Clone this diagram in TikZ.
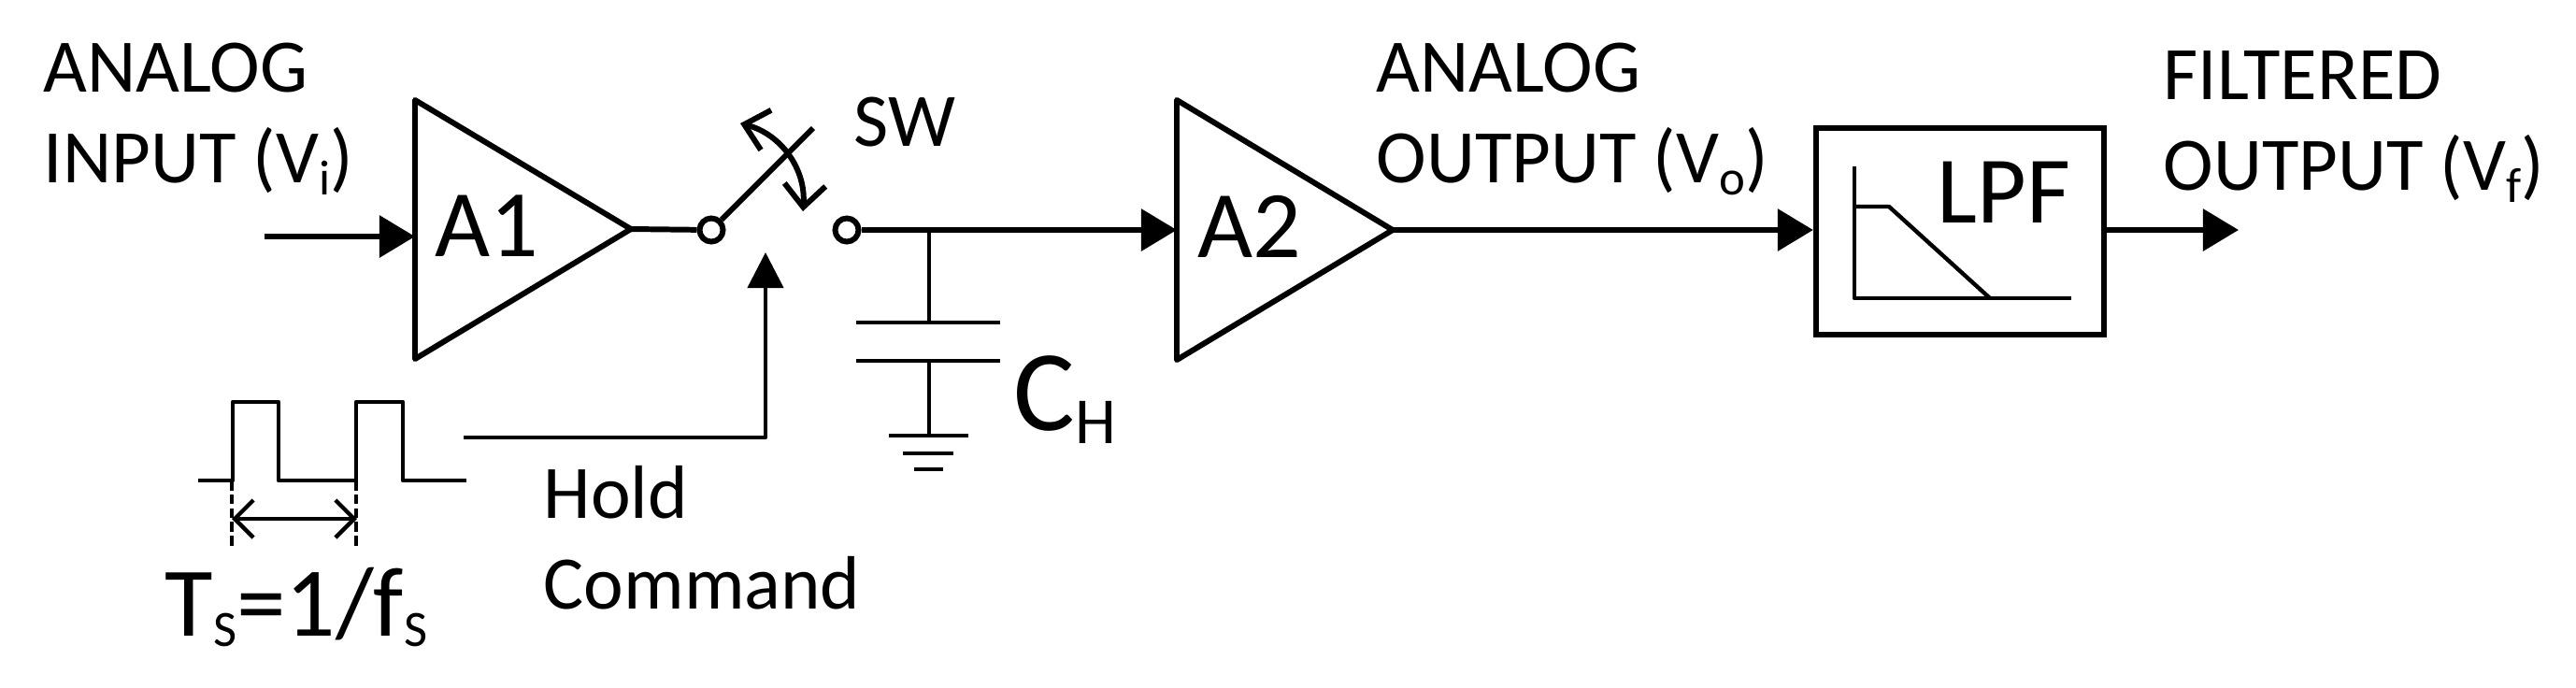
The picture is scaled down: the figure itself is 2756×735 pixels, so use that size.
\documentclass[tikz,border=0pt]{standalone}
\usepackage{fontspec}
\setmainfont{Carlito}
\usetikzlibrary{arrows.meta}
\newcommand{\lowsub}[1]{\raisebox{-3.8pt}{\fontsize{15}{15}\selectfont #1}}
\tikzset{
	wire/.style={line width=1.7pt, line join=round},
	thinwire/.style={line width=1.25pt, line join=round},
	solidtip/.style={-{Triangle[length=0.38cm, width=0.44cm]}},
	holdhead/.style={-{Triangle[length=0.38cm, width=0.38cm]}},
	opentip/.style={{Straight Barb[length=0.2cm, width=0.4cm]}-{Straight Barb[length=0.2cm, width=0.4cm]}},
	swingtip/.style={{Straight Barb[length=0.24cm, width=0.44cm]}-{Straight Barb[length=0.24cm, width=0.44cm]}},
	label/.style={anchor=base west, inner sep=0pt, align=left, font=\fontsize{23}{27.9}\selectfont},
	biglabel/.style={anchor=base west, inner sep=0pt, font=\fontsize{29}{30}\selectfont},
	terminal/.style={circle, draw, line width=1.7pt, minimum size=0.25cm, inner sep=0pt}
}
\begin{document}
\begin{tikzpicture}[x=0.01cm, y=-0.01cm]
	\useasboundingbox (0, 0) rectangle (2756, 735);

	\node [label] (input) at (46, 195) {ANALOG\\[-0.5pt]INPUT (V\lowsub{i})};
	\node [label] (output) at (1472, 195) {ANALOG\\[-0.5pt]OUTPUT (V\lowsub{o})};
	\node [label] (filtered) at (2314, 203) {FILTERED\\[-0.5pt]OUTPUT (V\lowsub{f})};
	\node [label] (swname) at (913, 156) {SW};
	\node [label] (hold) at (581, 651) {Hold\\[-0.5pt]Command};

	\coordinate (a1top) at (444, 107);
	\coordinate (a1bot) at (444, 384);
	\coordinate (a1out) at (675, 245);
	\coordinate (a1in) at (444, 253);
	\coordinate (source) at (283, 253);
	\draw [wire] (a1top) -- (a1out) -- (a1bot) -- cycle;
	\node [biglabel] (a1) at (465, 274) {A1};
	\draw [wire, solidtip] (source) to (a1in);

	\node [terminal] (swleft) at (761, 246) {};
	\node [terminal] (swright) at (906, 246) {};
	\coordinate (blade) at (870, 137);
	\coordinate (swingtop) at (792, 132);
	\coordinate (swingbot) at (859, 226);
	\draw [wire] (a1out) to (swleft);
	\draw [wire] (swleft) to (blade);
	\draw [wire, swingtip] (swingtop) to [bend left=40] (swingbot);

	\coordinate (a2top) at (1259, 107);
	\coordinate (a2bot) at (1259, 385);
	\coordinate (a2out) at (1490, 246);
	\coordinate (a2in) at (1259, 246);
	\draw [wire] (a2top) -- (a2out) -- (a2bot) -- cycle;
	\node [biglabel] (a2) at (1281, 275) {A2};
	\draw [wire, solidtip] (swright) to (a2in);

	\coordinate (capin) at (994, 246);
	\coordinate (captop) at (994, 345);
	\coordinate (capbot) at (994, 386);
	\coordinate (gnd) at (994, 466);
	\draw [thinwire] (capin) to (captop);
	\draw [thinwire] (capbot) to (gnd);
	\draw [thinwire] (916, 345) to (1070, 345);
	\draw [thinwire] (916, 386) to (1070, 386);
	\draw [thinwire] (951, 466) to (1036, 466);
	\draw [thinwire] (966, 485) to (1020, 485);
	\draw [thinwire] (978, 502) to (1009, 502);
	\node [anchor=base west, inner sep=0pt, font=\fontsize{35}{36}\selectfont] (ch) at (1084, 460) {C\raisebox{-4pt}{\fontsize{20}{21}\selectfont H}};

	\node [draw, line width=1.7pt, minimum width=3.08cm, minimum height=2.21cm, inner sep=0pt] (lpf) at (2097, 247.5) {};
	\coordinate (lpfout) at (2395, 246);
	\draw [wire, solidtip] (a2out) to (lpf.west |- a2out);
	\draw [wire, solidtip] (lpf.east |- lpfout) to (lpfout);
	\draw [thinwire] (1984, 178) -- (1984, 319) -- (2216, 319);
	\draw [thinwire] (1984, 221) -- (2021, 221) -- (2129, 319);
	\node [biglabel] (lpfname) at (2072, 238) {LPF};

	\draw [thinwire] (212, 514) -- (249, 514) -- (249, 430) -- (298, 430) -- (298, 514) -- (381, 514) -- (381, 430) -- (431, 430) -- (431, 514) -- (499, 514);
	\coordinate (pulseout) at (496, 468);
	\coordinate (holdtip) at (819, 270);
	\draw [thinwire, holdhead] (pulseout) -| (holdtip);
	\coordinate (periodl) at (248, 555);
	\coordinate (periodr) at (382, 555);
	\draw [thinwire, dash pattern=on 3pt off 1.2pt] (248, 514) to (248, 586);
	\draw [thinwire, dash pattern=on 3pt off 1.2pt] (381, 514) to (381, 586);
	\draw [thinwire, opentip] (periodl) to (periodr);
	\node [biglabel, font=\fontsize{30}{31}\selectfont] (period) at (176, 680) {T\raisebox{-3.4pt}{\fontsize{15.5}{16}\selectfont S}=1/f\raisebox{-3.4pt}{\fontsize{15.5}{16}\selectfont S}};
\end{tikzpicture}
\end{document}
